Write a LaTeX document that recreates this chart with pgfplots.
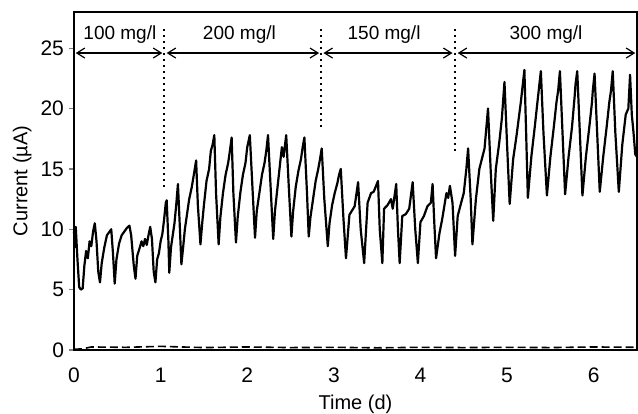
\documentclass[border=0pt]{standalone}
\usepackage{fontspec}
\setmainfont{Liberation Sans}
\usepackage{pgfplots}
\pgfplotsset{compat=1.18}
\usetikzlibrary{arrows.meta}

\begin{document}
\begin{tikzpicture}
\begin{axis}[
    name=ax,
    scale only axis,
    width=281.5pt, height=169pt,
    xmin=0, xmax=6.5, ymin=0, ymax=28,
    xtick={0,1,...,6}, ytick={0,5,...,25},
    major x tick style={draw=none},
    ytick style={line width=0.6pt},
    tick align=outside, major tick length=2.5pt,
    axis line style={line width=0.8pt},
    /pgf/number format/assume math mode=true,
    tick label style={font=\fontsize{10.5}{12}\selectfont},
    yticklabel style={xshift=1pt},
    xticklabel style={yshift=-3pt},
    label style={font=\fontsize{10.8}{13}\selectfont},
    xlabel={Time (d)},
    ylabel={Current (µA)},
    every axis x label/.style={at={(axis description cs:0.5,-0.16)}, anchor=center},
    every axis y label/.style={at={(axis description cs:-0.092,0.5)}, anchor=center, rotate=90},
    clip=false,
]

% control (dashed)
\addplot[black, line width=0.8pt, dash pattern=on 4pt off 2pt] coordinates {
    (0.00,0.05) (0.10,0.10) (0.20,0.25) (0.60,0.22) (1.00,0.30) (1.50,0.20)
    (2.00,0.25) (2.50,0.20) (3.00,0.22) (3.50,0.18) (4.00,0.22) (4.50,0.20)
    (5.00,0.22) (5.50,0.20) (6.00,0.25) (6.50,0.22)
};

% current trace
\addplot[black, line width=1.1pt, line join=round] coordinates {
    (0.00,9.8) (0.01,8.5) (0.02,10.2) (0.04,7.5) (0.06,5.2) (0.08,5.0) (0.10,5.1)
    (0.12,7.0) (0.14,8.2) (0.16,7.6) (0.18,9.0) (0.20,8.6) (0.22,9.8) (0.24,10.5)
    (0.26,9.0) (0.28,6.5) (0.30,5.6) (0.32,7.2) (0.35,8.5) (0.38,9.5) (0.41,9.8)
    (0.43,10.0) (0.45,8.0) (0.47,5.5) (0.49,7.5) (0.52,8.8) (0.55,9.5) (0.58,9.8)
    (0.61,10.1) (0.64,10.3) (0.66,9.5) (0.69,7.0) (0.71,5.9) (0.73,7.8) (0.76,8.5)
    (0.78,9.0) (0.80,8.6) (0.82,9.2) (0.84,8.7) (0.86,9.5) (0.88,10.2) (0.90,9.2)
    (0.92,6.5) (0.94,5.6) (0.96,7.5) (0.98,8.0) (1.00,9.0) (1.02,9.6) (1.04,10.8)
    (1.06,12.2) (1.07,12.4) (1.09,9.0) (1.10,6.4)
    (1.12,8.5) (1.14,9.5) (1.16,10.5) (1.18,12.0) (1.20,13.75) (1.22,10.5) (1.24,7.1)
    (1.26,8.5) (1.28,10.0) (1.30,11.0) (1.33,12.5) (1.36,13.5) (1.39,14.8) (1.41,15.7)
    (1.43,12.0) (1.46,8.75) (1.48,10.5) (1.50,12.0) (1.53,14.0) (1.56,15.0) (1.58,16.5)
    (1.60,17.0) (1.62,17.8) (1.64,13.0) (1.67,8.75) (1.69,11.0) (1.72,13.0) (1.75,14.5)
    (1.78,15.5) (1.80,16.5) (1.82,17.6) (1.84,13.0) (1.87,8.9) (1.89,11.0) (1.92,13.0)
    (1.95,14.5) (1.98,15.5) (2.00,16.8) (2.03,17.8) (2.06,13.5) (2.09,9.3) (2.11,11.5)
    (2.14,13.0) (2.17,14.5) (2.20,15.5) (2.22,16.5) (2.24,17.8) (2.27,13.5) (2.30,9.2)
    (2.32,11.5) (2.35,13.5) (2.38,15.5) (2.40,16.8) (2.42,16.0) (2.45,17.8) (2.48,13.5)
    (2.51,9.4) (2.53,11.5) (2.56,13.5) (2.59,14.8) (2.62,15.8) (2.64,16.8) (2.66,17.6)
    (2.69,13.0) (2.71,9.4) (2.73,11.0) (2.76,12.5) (2.79,14.0) (2.82,15.0) (2.84,15.8)
    (2.86,16.7) (2.89,12.5) (2.93,8.6) (2.95,10.5) (2.98,12.0) (3.01,13.0) (3.04,13.8)
    (3.06,14.5) (3.08,15.0) (3.11,11.0) (3.14,7.6)
    (3.18,11.2) (3.24,11.9) (3.28,13.9) (3.31,10.0) (3.35,7.2)
    (3.39,12.2) (3.43,13.0) (3.46,13.1) (3.51,14.0) (3.53,10.0) (3.56,7.2)
    (3.58,11.7) (3.62,12.0) (3.66,12.5) (3.68,11.7) (3.72,13.75) (3.74,10.0) (3.76,7.2)
    (3.79,11.1) (3.83,11.25) (3.87,11.7) (3.89,12.8) (3.91,13.9) (3.94,10.0) (3.97,7.2)
    (4.00,10.6) (4.04,11.1) (4.08,11.9) (4.12,12.2) (4.14,13.75) (4.16,10.5) (4.18,7.6)
    (4.22,9.7) (4.25,10.8) (4.30,13.0) (4.32,12.6) (4.34,13.6) (4.37,12.2) (4.40,7.8)
    (4.43,11.1) (4.47,12.2) (4.50,13.0) (4.53,15.0) (4.55,16.7) (4.58,12.5) (4.60,8.75)
    (4.64,12.5) (4.68,15.0) (4.74,16.7) (4.78,20.0) (4.81,15.0) (4.84,10.7)
    (4.87,15.0) (4.91,17.2) (4.94,19.2) (4.97,22.2) (5.00,17.0) (5.03,12.1)
    (5.07,15.8) (5.11,17.8) (5.16,20.6) (5.20,23.2) (5.22,18.0) (5.24,12.6)
    (5.28,16.0) (5.32,18.5) (5.35,20.5) (5.37,21.8) (5.39,23.1) (5.42,18.0) (5.46,12.8)
    (5.50,16.0) (5.54,18.5) (5.57,20.5) (5.59,21.5) (5.61,23.1) (5.64,18.0) (5.67,12.9)
    (5.71,16.0) (5.75,18.5) (5.78,21.0) (5.79,22.0) (5.81,23.1) (5.84,18.0) (5.87,12.8)
    (5.91,16.0) (5.95,18.5) (5.98,20.5) (5.99,21.5) (6.01,22.9) (6.04,18.0) (6.07,13.1)
    (6.11,16.0) (6.15,18.5) (6.18,20.5) (6.20,21.5) (6.22,23.1) (6.25,18.0) (6.29,13.1)
    (6.33,17.0) (6.37,19.5) (6.40,20.0) (6.42,22.8) (6.44,19.5) (6.46,18.0) (6.48,16.2)
    (6.50,16.0)
};

% phase boundaries
\draw[line width=1pt, dash pattern=on 1pt off 2pt] (axis cs:1.04,26.6) -- (axis cs:1.04,13.2);
\draw[line width=1pt, dash pattern=on 1pt off 2pt] (axis cs:2.85,26.6) -- (axis cs:2.85,18.2);
\draw[line width=1pt, dash pattern=on 1pt off 2pt] (axis cs:4.40,26.6) -- (axis cs:4.40,16.5);

% concentration arrows
\draw[{Straight Barb[length=4pt,width=5pt]}-{Straight Barb[length=4pt,width=5pt]}, line width=0.6pt]
    (axis cs:0.02,24.6) -- (axis cs:1.02,24.6);
\draw[{Straight Barb[length=4pt,width=5pt]}-{Straight Barb[length=4pt,width=5pt]}, line width=0.6pt]
    (axis cs:1.07,24.6) -- (axis cs:2.83,24.6);
\draw[{Straight Barb[length=4pt,width=5pt]}-{Straight Barb[length=4pt,width=5pt]}, line width=0.6pt]
    (axis cs:2.88,24.6) -- (axis cs:4.37,24.6);
\draw[{Straight Barb[length=4pt,width=5pt]}-{Straight Barb[length=4pt,width=5pt]}, line width=0.6pt]
    (axis cs:4.43,24.6) -- (axis cs:6.48,24.6);

\node[font=\fontsize{9.5}{11}\selectfont] at (axis cs:0.53,26.1) {100 mg/l};
\node[font=\fontsize{9.5}{11}\selectfont] at (axis cs:1.91,26.1) {200 mg/l};
\node[font=\fontsize{9.5}{11}\selectfont] at (axis cs:3.58,26.1) {150 mg/l};
\node[font=\fontsize{9.5}{11}\selectfont] at (axis cs:5.45,26.1) {300 mg/l};
\end{axis}
\pgfresetboundingbox
\useasboundingbox ([xshift=-37pt,yshift=-32pt]ax.south west) rectangle ([xshift=0.5pt,yshift=6pt]ax.north east);
\end{tikzpicture}
\end{document}
